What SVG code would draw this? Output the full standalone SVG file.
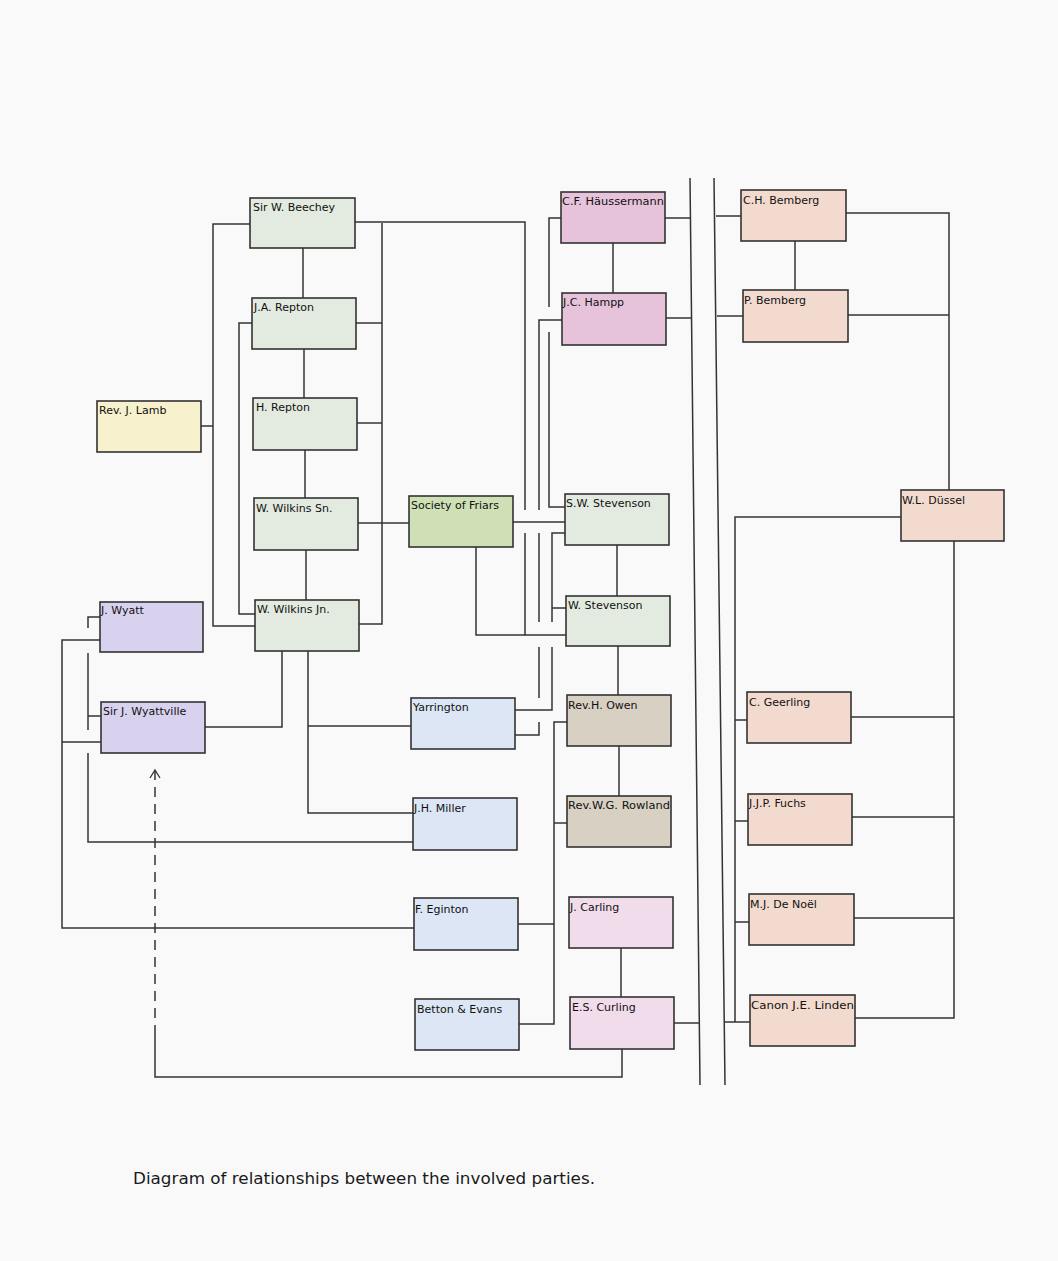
<svg xmlns="http://www.w3.org/2000/svg" width="1058" height="1261" viewBox="0 0 1058 1261">
<style>
.n rect{stroke:#333;stroke-width:1.6}
.n text{font-family:"DejaVu Sans","Liberation Sans",sans-serif;font-size:11px;fill:#111}
.g rect{fill:#e3eadf}
.y rect{fill:#f7f1cd}
.p rect{fill:#d8d2ef}
.f rect{fill:#cfe0b6}
.b rect{fill:#dce6f4}
.k rect{fill:#e6c3da}
.t rect{fill:#d9d0c4}
.l rect{fill:#f1dcec}
.s rect{fill:#f3dacf}
#connectors path{fill:none;stroke:#333;stroke-width:1.5}
#connectors .dash{stroke-dasharray:10 7}
.cap{font-family:"DejaVu Sans","Liberation Sans",sans-serif;font-size:15px;fill:#1a1a1a}
</style>
<defs>
<marker id="arr" viewBox="0 0 12 12" refX="10" refY="6" markerWidth="12" markerHeight="12" markerUnits="userSpaceOnUse" orient="auto">
<path d="M2,1 L10,6 L2,11" fill="none" stroke="#333" stroke-width="1.3"/>
</marker>
</defs>
<rect width="1058" height="1261" fill="#f9f9fa"/>

<g id="connectors">
<!-- dividers -->
<path d="M690,178 L700,1085"/>
<path d="M714,178 L725,1085"/>
<!-- left green column -->
<path d="M250,224 H213 V626 H255"/>
<path d="M201,426 H213"/>
<path d="M252,323 H239 V614 H255"/>
<path d="M382,223 V624 H359"/>
<path d="M356,323 H382"/>
<path d="M357,423 H382"/>
<path d="M358,523 H409"/>
<path d="M303,248 V298"/>
<path d="M304,349 V398"/>
<path d="M305,450 V498"/>
<path d="M306,550 V600"/>
<!-- middle bundle -->
<path d="M355,222 H525 V510"/>
<path d="M525,533 V635 H566"/>
<path d="M513,522 H565"/>
<path d="M476,547 V635 H525"/>
<path d="M562,320 H539 V510"/>
<path d="M539,533 V622"/>
<path d="M539,647 V698"/>
<path d="M539,722 V735 H515"/>
<path d="M561,218 H549 V307"/>
<path d="M549,332 V507 H565"/>
<path d="M565,533 H552 V622"/>
<path d="M552,647 V710 H515"/>
<path d="M552,608 H566"/>
<!-- Wilkins Jn down -->
<path d="M282,651 V727 H205"/>
<path d="M308,651 V813 H413"/>
<path d="M308,726 H411"/>
<!-- Wyatt -->
<path d="M100,617 H88 V628"/>
<path d="M88,653 V730"/>
<path d="M88,753 V842 H413"/>
<path d="M88,716 H101"/>
<path d="M100,640 H62 V928 H414"/>
<path d="M62,742 H101"/>
<!-- middle column -->
<path d="M613,243 V293"/>
<path d="M665,218 H691"/>
<path d="M666,318 H692"/>
<path d="M617,545 V596"/>
<path d="M618,646 V695"/>
<path d="M619,746 V796"/>
<path d="M621,948 V997"/>
<path d="M674,1023 H700"/>
<path d="M567,722 H554 V1024 H519"/>
<path d="M554,823 H567"/>
<path d="M518,924 H554"/>
<!-- Curling to Wyattville -->
<path d="M622,1049 V1077 H155 V1035"/>
<path class="dash" d="M155,1035 V770" marker-end="url(#arr)"/>
<!-- right side -->
<path d="M716,216 H741"/>
<path d="M717,316 H743"/>
<path d="M795,241 V290"/>
<path d="M846,213 H949 V490"/>
<path d="M848,315 H949"/>
<path d="M901,517 H735 V1022"/>
<path d="M725,1022 H750"/>
<path d="M735,720 H747"/>
<path d="M735,821 H748"/>
<path d="M735,922 H749"/>
<path d="M954,541 V1018 H855"/>
<path d="M851,717 H954"/>
<path d="M852,817 H954"/>
<path d="M854,918 H954"/>
</g>

<g id="n-beechey" class="n g"><rect x="250" y="198" width="105" height="50"/><text x="253" y="211">Sir W. Beechey</text></g>
<g id="n-jarepton" class="n g"><rect x="252" y="298" width="104" height="51"/><text x="254" y="311">J.A. Repton</text></g>
<g id="n-hrepton" class="n g"><rect x="253" y="398" width="104" height="52"/><text x="256" y="411">H. Repton</text></g>
<g id="n-wilkinssn" class="n g"><rect x="254" y="498" width="104" height="52"/><text x="256" y="512">W. Wilkins Sn.</text></g>
<g id="n-wilkinsjn" class="n g"><rect x="255" y="600" width="104" height="51"/><text x="257" y="613">W. Wilkins Jn.</text></g>
<g id="n-lamb" class="n y"><rect x="97" y="401" width="104" height="51"/><text x="99" y="414">Rev. J. Lamb</text></g>
<g id="n-jwyatt" class="n p"><rect x="100" y="602" width="103" height="50"/><text x="101" y="614">J. Wyatt</text></g>
<g id="n-wyattville" class="n p"><rect x="101" y="702" width="104" height="51"/><text x="103" y="715">Sir J. Wyattville</text></g>
<g id="n-friars" class="n f"><rect x="409" y="496" width="104" height="51"/><text x="411" y="509">Society of Friars</text></g>
<g id="n-yarrington" class="n b"><rect x="411" y="698" width="104" height="51"/><text x="413" y="711">Yarrington</text></g>
<g id="n-miller" class="n b"><rect x="413" y="798" width="104" height="52"/><text x="414" y="812">J.H. Miller</text></g>
<g id="n-eginton" class="n b"><rect x="414" y="898" width="104" height="52"/><text x="415" y="913">F. Eginton</text></g>
<g id="n-betton" class="n b"><rect x="415" y="999" width="104" height="51"/><text x="417" y="1013">Betton &amp; Evans</text></g>
<g id="n-haussermann" class="n k"><rect x="561" y="192" width="104" height="51"/><text x="562" y="205" textLength="102" lengthAdjust="spacingAndGlyphs">C.F. Häussermann</text></g>
<g id="n-hampp" class="n k"><rect x="562" y="293" width="104" height="52"/><text x="563" y="306">J.C. Hampp</text></g>
<g id="n-swstevenson" class="n g"><rect x="565" y="494" width="104" height="51"/><text x="566" y="507">S.W. Stevenson</text></g>
<g id="n-wstevenson" class="n g"><rect x="566" y="596" width="104" height="50"/><text x="568" y="609">W. Stevenson</text></g>
<g id="n-owen" class="n t"><rect x="567" y="695" width="104" height="51"/><text x="568" y="709">Rev.H. Owen</text></g>
<g id="n-rowland" class="n t"><rect x="567" y="796" width="104" height="51"/><text x="568" y="809" textLength="102" lengthAdjust="spacingAndGlyphs">Rev.W.G. Rowland</text></g>
<g id="n-jcarling" class="n l"><rect x="569" y="897" width="104" height="51"/><text x="570" y="911">J. Carling</text></g>
<g id="n-escurling" class="n l"><rect x="570" y="997" width="104" height="52"/><text x="572" y="1011">E.S. Curling</text></g>
<g id="n-chbemberg" class="n s"><rect x="741" y="190" width="105" height="51"/><text x="743" y="204">C.H. Bemberg</text></g>
<g id="n-pbemberg" class="n s"><rect x="743" y="290" width="105" height="52"/><text x="744" y="304">P. Bemberg</text></g>
<g id="n-dussel" class="n s"><rect x="901" y="490" width="103" height="51"/><text x="902" y="504">W.L. Düssel</text></g>
<g id="n-geerling" class="n s"><rect x="747" y="692" width="104" height="51"/><text x="749" y="706">C. Geerling</text></g>
<g id="n-fuchs" class="n s"><rect x="748" y="794" width="104" height="51"/><text x="749" y="807">J.J.P. Fuchs</text></g>
<g id="n-denoel" class="n s"><rect x="749" y="894" width="105" height="51"/><text x="750" y="908">M.J. De Noël</text></g>
<g id="n-linden" class="n s"><rect x="750" y="995" width="105" height="51"/><text x="751" y="1009" textLength="103" lengthAdjust="spacingAndGlyphs">Canon J.E. Linden</text></g>

<text class="cap" x="133" y="1184" textLength="462" lengthAdjust="spacingAndGlyphs">Diagram of relationships between the involved parties.</text>
</svg>
